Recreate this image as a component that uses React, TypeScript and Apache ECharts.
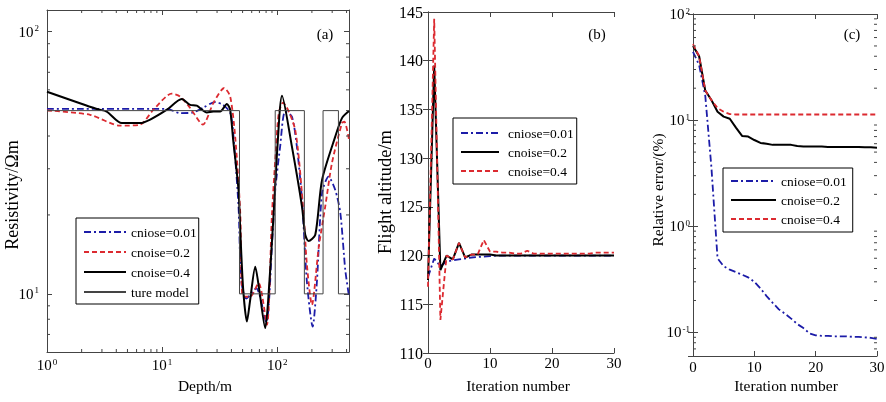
import { useEffect, useRef } from 'react';
import * as echarts from 'echarts';

const FONT = 'Liberation Serif';
const BLUE = '#1c1ca8';
const RED = '#dc2a30';
const BLACK = '#000000';
const BOX = '#444444';

// ---------- Panel (a): resistivity vs depth ----------
const trueDepth = [1, 47, 47, 96, 96, 172, 172, 250, 250, 340, 340, 420];
const trueRes = [50, 50, 10, 10, 50, 50, 10, 10, 50, 50, 10, 10];

const blueDepth = [1, 11.0, 14.3, 18.6, 22.7, 28.9, 33.9, 39.0, 41.4, 46.1, 48.6, 53.8, 65.7, 80.2, 90.5, 96.1, 106, 117, 134, 148, 164, 181, 203, 221, 245, 279, 319, 353, 390, 420];
const blueRes = [50.8, 50.8, 48.9, 49.2, 51.3, 53.9, 52.6, 49.1, 41.2, 21.5, 11.3, 9.6, 10.5, 7.8, 16, 24.9, 36.5, 49.6, 47.5, 36.5, 22.9, 11.1, 7.5, 11.1, 24.2, 28.0, 24.9, 20.4, 12.3, 9.8];

const redDepth = [1, 2.37, 4.31, 6.44, 8.4, 12.1, 14.3, 17.5, 22.6, 27.9, 34.6, 39.0, 43.1, 47.7, 49.6, 53.8, 58.2, 68.8, 81.3, 89.9, 96.1, 103, 112, 143, 169, 181, 200, 229, 261, 299, 365, 383, 420];
const redRes = [50.1, 48.2, 43.8, 44.2, 50.4, 58.0, 56.6, 51.2, 44.2, 53.5, 61.0, 56.6, 39.8, 20.4, 9.9, 9.75, 9.75, 11.0, 7.62, 20.0, 32.5, 48.9, 53.6, 42.3, 20.4, 12.9, 9.08, 15.0, 21.5, 31.6, 44.8, 45.4, 38.7];

const blackDepth = [1, 2.71, 3.3, 4.46, 6.44, 7.87, 11.0, 14.8, 17.5, 20.0, 24.5, 27.9, 31.9, 36.5, 39.0, 41.4, 46.1, 47.7, 50.6, 54.5, 58.2, 64.4, 69.7, 78.7, 83.5, 92.9, 100, 110, 134, 164, 175, 187, 214, 245, 319, 365, 420];
const blackRes = [59, 50.7, 49.6, 44.8, 44.8, 46.2, 50.4, 55.4, 52.6, 52.2, 49.2, 49.6, 49.6, 53.0, 50.4, 38.7, 24.9, 17.5, 10.4, 7.84, 9.49, 12.7, 10.4, 7.4, 9.5, 20.0, 35.5, 57.0, 36.5, 21.5, 16.8, 15.9, 16.8, 27.2, 39.8, 46.8, 49.8];

const depthMinorTicks = [2, 3, 4, 5, 6, 7, 8, 9, 20, 30, 40, 50, 60, 70, 80, 90, 200, 300, 400];
const resMinorTicks = [7, 8, 9, 20, 30, 40, 50, 60, 70, 80, 90];

// ---------- Panel (b): flight altitude vs iteration ----------
const iterations = Array.from({ length: 31 }, (_, i) => i);
const altBlue = [117.8, 119.7, 118.9, 119.4, 119.5, 119.6, 119.7, 119.8, 119.85, 119.9, 119.95, 120, 120, 120, 120, 120, 120, 120, 120, 120, 120, 120, 120, 120, 120, 120, 120, 120, 120, 120, 120];
const altBlack = [117.5, 139.5, 118.5, 120.0, 119.6, 121.3, 119.8, 120.1, 120.1, 120.1, 120.1, 120.0, 120.0, 120.0, 120.0, 120.0, 120.0, 120.0, 120.0, 120.0, 120.0, 120.0, 120.0, 120.0, 120.0, 120.0, 120.0, 120.0, 120.0, 120.0, 120.0];
const altRed = [116.8, 144.3, 113.4, 120.0, 119.6, 121.3, 119.8, 120.1, 120.1, 121.6, 120.4, 120.4, 120.3, 120.3, 120.2, 120.2, 120.5, 120.2, 120.2, 120.2, 120.2, 120.2, 120.2, 120.2, 120.2, 120.2, 120.2, 120.3, 120.3, 120.3, 120.3];

// ---------- Panel (c): relative error vs iteration ----------
const errBlue = [44, 33, 17, 3.6, 0.5, 0.42, 0.39, 0.37, 0.35, 0.33, 0.3, 0.26, 0.22, 0.19, 0.165, 0.15, 0.135, 0.12, 0.11, 0.098, 0.094, 0.093, 0.093, 0.092, 0.092, 0.092, 0.091, 0.091, 0.09, 0.089, 0.087];
const errBlack = [50, 40, 19, 15.5, 12, 10.8, 10.3, 8.5, 7.1, 7.0, 6.5, 6.1, 6.0, 5.85, 5.85, 5.85, 5.85, 5.7, 5.65, 5.65, 5.65, 5.65, 5.6, 5.6, 5.6, 5.6, 5.6, 5.6, 5.55, 5.55, 5.5];
const errRed = [52, 40, 19, 15.5, 13, 12, 11.4, 11.3, 11.3, 11.3, 11.3, 11.3, 11.3, 11.3, 11.3, 11.3, 11.3, 11.3, 11.3, 11.3, 11.3, 11.3, 11.3, 11.3, 11.3, 11.3, 11.3, 11.3, 11.3, 11.3, 11.3];
const errMinorTicks = [0.07, 0.08, 0.09, 0.2, 0.3, 0.4, 0.5, 0.6, 0.7, 0.8, 0.9, 2, 3, 4, 5, 6, 7, 8, 9, 20, 30, 40, 50, 60, 70, 80, 90];

const zip = (xs: number[], ys: number[]) => xs.map((x, i) => [x, ys[i]]);

function logLabel(v: number) {
  const l = Math.log10(v);
  const e = Math.round(l);
  if (Math.abs(l - e) > 1e-6) return '';
  return `{b|10}{s|${e}}`;
}
const logRich = {
  b: { fontSize: 15, fontFamily: FONT, color: '#000', lineHeight: 16 },
  s: { fontSize: 9, fontFamily: FONT, color: '#000', verticalAlign: 'top' as const, lineHeight: 16, padding: [0, 0, 0, 1] },
};

const lineAxis = { show: true, lineStyle: { color: BOX, width: 1 } };
const tickIn = { show: true, inside: true, length: 5, lineStyle: { color: BOX, width: 1 } };

function axisPair(kind: 'x' | 'y', gridIndex: number, base: any, label: any) {
  const pos = kind === 'x' ? ['bottom', 'top'] : ['left', 'right'];
  return [
    { gridIndex, position: pos[0], ...base, axisLine: lineAxis, axisTick: tickIn, splitLine: { show: false }, axisLabel: label },
    { gridIndex, position: pos[1], ...base, axisLine: lineAxis, axisTick: tickIn, splitLine: { show: false }, axisLabel: { show: false } },
  ];
}

function minorSeries(kind: 'x' | 'y', axisIndex: number, values: number[], ref: number) {
  return {
    type: 'custom',
    xAxisIndex: axisIndex,
    yAxisIndex: axisIndex,
    silent: true,
    clip: false,
    z: 5,
    data: values.map((v) => (kind === 'x' ? [v, ref] : [ref, v])),
    renderItem: (params: any, api: any) => {
      const cs = params.coordSys;
      const p = api.coord([api.value(0), api.value(1)]);
      const st = { stroke: BOX, lineWidth: 1 };
      if (kind === 'y') {
        return {
          type: 'group',
          children: [
            { type: 'line', shape: { x1: cs.x, y1: p[1], x2: cs.x + 3, y2: p[1] }, style: st },
            { type: 'line', shape: { x1: cs.x + cs.width - 3, y1: p[1], x2: cs.x + cs.width, y2: p[1] }, style: st },
          ],
        };
      }
      return {
        type: 'group',
        children: [
          { type: 'line', shape: { x1: p[0], y1: cs.y + cs.height, x2: p[0], y2: cs.y + cs.height - 3 }, style: st },
          { type: 'line', shape: { x1: p[0], y1: cs.y, x2: p[0], y2: cs.y + 3 }, style: st },
        ],
      };
    },
  };
}

const blueStyle = { color: BLUE, width: 1.8, type: [7, 3, 2, 3] };
const redStyle = { color: RED, width: 1.8, type: [5, 3] };
const blackStyle = { color: BLACK, width: 2, type: 'solid' };

function lineSeries(name: string, idx: number, data: number[][], style: any, smooth: number | boolean) {
  return {
    type: 'line',
    name,
    xAxisIndex: idx,
    yAxisIndex: idx,
    data,
    showSymbol: false,
    symbol: 'none',
    smooth,
    color: style.color,
    lineStyle: style,
  };
}

function legend(left: number, top: number, names: string[], itemWidth: number, itemGap: number, padding: number[], textPad: number) {
  return {
    orient: 'vertical',
    left,
    top,
    data: names,
    itemWidth,
    itemHeight: 14,
    itemGap,
    padding,
    borderColor: '#000',
    borderWidth: 1,
    borderRadius: 0,
    backgroundColor: '#fff',
    selectedMode: false,
    itemStyle: { opacity: 0, borderWidth: 0 },
    formatter: (n: string) => n.split('|')[1],
    textStyle: { fontFamily: FONT, fontSize: 13.5, color: '#000', padding: [0, 0, 0, textPad] },
  };
}

function text(x: number, y: number, t: string, size: number, rot = 0) {
  return {
    type: 'text',
    x,
    y,
    rotation: rot,
    style: { text: t, fontFamily: FONT, fontSize: size, fill: '#000', align: 'center', verticalAlign: 'middle' },
  };
}

export default function App() {
  const ref = useRef<HTMLDivElement>(null);
  useEffect(() => {
    if (!ref.current) return;
    const chart = echarts.init(ref.current, undefined, { renderer: 'svg' });

    const xAxes = [
      ...axisPair('x', 0, { type: 'log', logBase: 10, min: 1, max: 420 }, {
        show: true, margin: 5, interval: 0, showMinLabel: true, showMaxLabel: false, formatter: logLabel, rich: logRich,
      }),
      ...axisPair('x', 1, { type: 'value', min: 0, max: 30, interval: 10 }, {
        show: true, margin: 2, fontSize: 15, fontFamily: FONT, color: '#000',
      }),
      ...axisPair('x', 2, { type: 'value', min: 0, max: 30, interval: 10 }, {
        show: true, margin: 3, fontSize: 15, fontFamily: FONT, color: '#000',
      }),
    ];
    const yAxes = [
      ...axisPair('y', 0, { type: 'log', logBase: 10, min: 6, max: 121 }, {
        show: true, margin: 8, interval: 0, showMinLabel: false, showMaxLabel: false, formatter: logLabel, rich: logRich,
      }),
      ...axisPair('y', 1, { type: 'value', min: 110, max: 145, interval: 5 }, {
        show: true, margin: 5, fontSize: 16, fontFamily: FONT, color: '#000',
      }),
      ...axisPair('y', 2, { type: 'log', logBase: 10, min: 0.06, max: 100 }, {
        show: true, margin: 3, interval: 0, showMinLabel: false, showMaxLabel: true, formatter: logLabel, rich: logRich,
      }),
    ];
    // primary axes are at even indices (0,2,4); mirrors at odd indices
    const P = [0, 2, 4];

    chart.setOption({
      animation: false,
      textStyle: { fontFamily: FONT },
      grid: [
        { left: 47, top: 10, width: 302, height: 342, outerBoundsMode: 'none' },
        { left: 428, top: 12, width: 186, height: 341, outerBoundsMode: 'none' },
        { left: 693, top: 14, width: 184, height: 342, outerBoundsMode: 'none' },
      ],
      xAxis: xAxes,
      yAxis: yAxes,
      legend: [
        legend(76, 218, ['a|cniose=0.01', 'a|cnoise=0.2', 'a|cnoise=0.4', 'a|ture model'], 42, 6, [7, 2, 5, 7], 0),
        legend(453, 118, ['b|cniose=0.01', 'b|cnoise=0.2', 'b|cnoise=0.4'], 38, 5, [8, 3, 6, 7], 4),
        legend(723, 168, ['c|cniose=0.01', 'c|cnoise=0.2', 'c|cnoise=0.4'], 45, 5, [6, 6, 6, 7], 0),
      ],
      graphic: [
        text(12, 195, 'Resistivity/Ωm', 18, Math.PI / 2),
        text(205, 385, 'Depth/m', 15.5),
        text(325, 34, '(a)', 15),
        text(385, 192, 'Flight altitude/m', 18.5, Math.PI / 2),
        text(518, 385, 'Iteration number', 15.5),
        text(597, 34, '(b)', 15),
        text(657, 190, 'Relative error/(%)', 15.5, Math.PI / 2),
        text(786, 385, 'Iteration number', 15.5),
        text(852, 34, '(c)', 15),
      ],
      series: [
        lineSeries('a|cniose=0.01', P[0], zip(blueDepth, blueRes), blueStyle, 0.25),
        lineSeries('a|cnoise=0.2', P[0], zip(redDepth, redRes), redStyle, 0.25),
        lineSeries('a|cnoise=0.4', P[0], zip(blackDepth, blackRes), blackStyle, 0.25),
        lineSeries('a|ture model', P[0], zip(trueDepth, trueRes), { color: BOX, width: 1, type: 'solid' }, false),
        minorSeries('x', P[0], depthMinorTicks, 10),
        minorSeries('y', P[0], resMinorTicks, 10),

        lineSeries('b|cniose=0.01', P[1], zip(iterations, altBlue), blueStyle, false),
        lineSeries('b|cnoise=0.2', P[1], zip(iterations, altBlack), blackStyle, false),
        lineSeries('b|cnoise=0.4', P[1], zip(iterations, altRed), redStyle, false),

        lineSeries('c|cniose=0.01', P[2], zip(iterations, errBlue), blueStyle, false),
        lineSeries('c|cnoise=0.2', P[2], zip(iterations, errBlack), blackStyle, false),
        lineSeries('c|cnoise=0.4', P[2], zip(iterations, errRed), redStyle, false),
        minorSeries('y', P[2], errMinorTicks, 15),
      ],
    });
    return () => chart.dispose();
  }, []);
  return <div ref={ref} style={{ position: 'fixed', left: 0, top: 0, width: 886, height: 402 }} />;
}
